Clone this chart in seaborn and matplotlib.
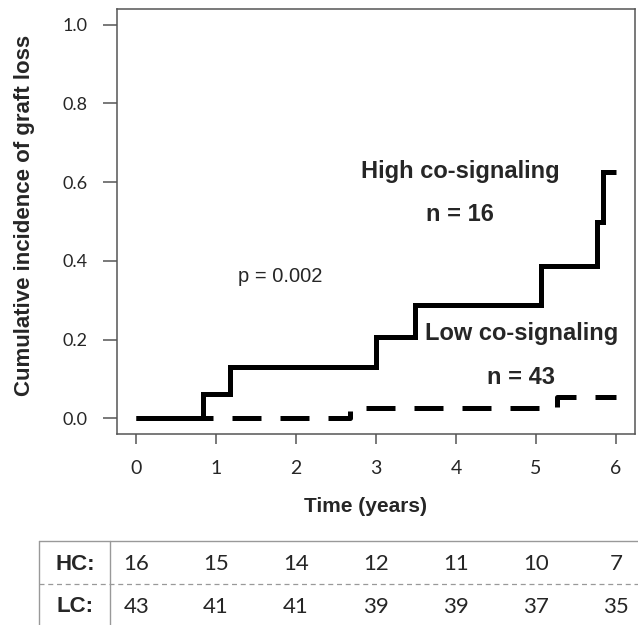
import numpy as np
import pandas as pd
import seaborn as sns
import matplotlib.pyplot as plt
from matplotlib.lines import Line2D
from matplotlib.transforms import blended_transform_factory

# Dados (incidência cumulativa por grupo)
hc_time = [0, 0.84, 1.17, 3.00, 3.49, 5.07, 5.76, 5.84, 6.00]
hc_cif = [0, 0.0625, 0.130, 0.206, 0.288, 0.388, 0.500, 0.627, 0.627]
lc_time = [0, 2.68, 5.26, 6.00]
lc_cif = [0, 0.026, 0.053, 0.053]

x_ticks = [0, 1, 2, 3, 4, 5, 6]
y_ticks = [0.0, 0.2, 0.4, 0.6, 0.8, 1.0]
hc_risk = [16, 15, 14, 12, 11, 10, 7]
lc_risk = [43, 41, 41, 39, 39, 37, 35]

sns.set_style('white')
plt.rcParams['font.family'] = ['Liberation Sans', 'DejaVu Sans']

fig = plt.figure(figsize=(6.38, 6.25), dpi=100)
ax = fig.add_axes([117 / 638, 1 - 434 / 625, 518 / 638, 425 / 625])

hc = pd.DataFrame({'time': hc_time, 'cif': hc_cif})
lc = pd.DataFrame({'time': lc_time, 'cif': lc_cif})

sns.lineplot(data=lc, x='time', y='cif', ax=ax, estimator=None, sort=False,
             drawstyle='steps-post', color='black', lw=3.6)
sns.lineplot(data=hc, x='time', y='cif', ax=ax, estimator=None, sort=False,
             drawstyle='steps-post', color='black', lw=3.6)
lines = ax.get_lines()
lines[0].set_dashes([5.8, 3.8])
lines[0].set_dash_capstyle('butt')
lines[1].set_solid_capstyle('butt')
lines[1].set_solid_joinstyle('miter')

ax.set_xlim(-0.24, 6.24)
ax.set_ylim(-0.04, 1.04)
ax.set_xticks(x_ticks)
ax.set_yticks(y_ticks)
ax.set_xticklabels([str(t) for t in x_ticks], family='Lato', fontsize=14)
ax.set_yticklabels(['%.1f' % t for t in y_ticks], family='Lato', fontsize=13)
ax.tick_params(axis='y', direction='out', length=10, width=1.1, color='#555555', pad=11, left=True)
ax.tick_params(axis='x', direction='out', length=7.5, width=1.1, color='#555555', pad=11, bottom=True)
for sp in ax.spines.values():
    sp.set_visible(True)
    sp.set_color('#555555')
    sp.set_linewidth(1.1)
ax.set_xlabel('')
ax.set_ylabel('')

# Textos
ax.text(4.05, 0.627, 'High co-signaling', ha='center', va='center', fontsize=17, fontweight='bold')
ax.text(4.05, 0.518, 'n = 16', ha='center', va='center', fontsize=17, fontweight='bold')
ax.text(4.82, 0.216, 'Low co-signaling', ha='center', va='center', fontsize=17, fontweight='bold')
ax.text(4.82, 0.104, 'n = 43', ha='center', va='center', fontsize=17, fontweight='bold')
ax.text(1.8, 0.36, 'p = 0.002', ha='center', va='center', fontsize=14.5)

fig.text(25 / 638, 1 - 215 / 625, 'Cumulative incidence of graft loss', rotation=90,
         ha='center', va='center', fontsize=16, fontweight='bold')
fig.text(366 / 638, 1 - 506 / 625, 'Time (years)', ha='center', va='center',
         fontsize=15, fontweight='bold')

# Tabela de pacientes em risco
gray = '#999999'
fig.add_artist(Line2D([39 / 638, 1], [1 - 541 / 625] * 2, color=gray, lw=1))
fig.add_artist(Line2D([39 / 638, 1], [1 - 584 / 625] * 2, color=gray, lw=0.9, ls=(0, (4, 3))))
fig.add_artist(Line2D([39 / 638] * 2, [0, 1 - 541 / 625], color=gray, lw=1))
fig.add_artist(Line2D([110 / 638] * 2, [0, 1 - 541 / 625], color=gray, lw=1))

fig.text(75 / 638, 1 - 564 / 625, 'HC:', ha='center', va='center', fontsize=16, fontweight='bold')
fig.text(75 / 638, 1 - 607 / 625, 'LC:', ha='center', va='center', fontsize=16, fontweight='bold')
trans = blended_transform_factory(ax.transData, fig.transFigure)
for t, h, l in zip(x_ticks, hc_risk, lc_risk):
    fig.text(t, 1 - 564 / 625, str(h), transform=trans, ha='center', va='center',
             family='Lato', fontsize=16)
    fig.text(t, 1 - 607 / 625, str(l), transform=trans, ha='center', va='center',
             family='Lato', fontsize=16)

fig.savefig('out.png', dpi=100)
